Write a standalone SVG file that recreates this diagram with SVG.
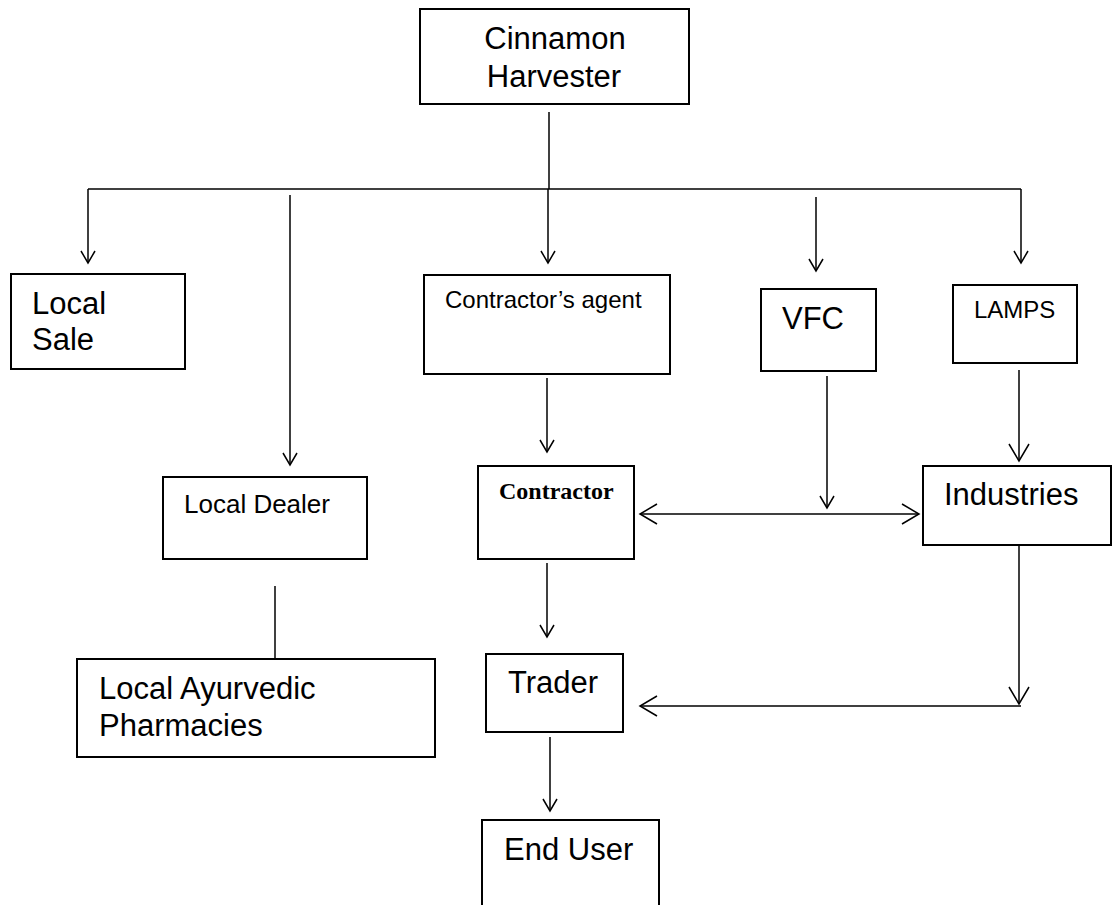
<svg xmlns="http://www.w3.org/2000/svg" width="1112" height="905" viewBox="0 0 1112 905">
<style>
.box{fill:#fff;stroke:#000;stroke-width:2}
.t{font-family:"Liberation Sans",Arial,sans-serif;fill:#000}
.big{font-size:31px}
.sm{font-size:24px}
.ser{font-family:"Liberation Serif","Times New Roman",serif;font-weight:bold;font-size:24px;fill:#000}
.ln{fill:none;stroke:#000;stroke-width:1.5}
.a{marker-end:url(#ar)}
.A{marker-end:url(#arB)}
</style>
<defs>
<marker id="ar" markerUnits="userSpaceOnUse" viewBox="-14 -9 16 18" refX="0" refY="0" markerWidth="16" markerHeight="18" orient="auto-start-reverse">
<path d="M-12,-7 L0,0 L-12,7" fill="none" stroke="#000" stroke-width="1.5"/>
</marker>
<marker id="arB" markerUnits="userSpaceOnUse" viewBox="-19 -12 21 24" refX="0" refY="0" markerWidth="21" markerHeight="24" orient="auto-start-reverse">
<path d="M-17,-10 L0,0 L-17,10" fill="none" stroke="#000" stroke-width="1.5"/>
</marker>
</defs>
<rect width="1112" height="905" fill="#fff"/>
<g id="connectors">
<path class="ln" d="M549,112 V189"/>
<path class="ln" d="M88,189 H1021"/>
<path class="ln a" d="M88,189 V263"/>
<path class="ln a" d="M1021,189 V263"/>
<path class="ln a" d="M290,195 V465"/>
<path class="ln a" d="M548,189 V263"/>
<path class="ln a" d="M816,197 V271"/>
<path class="ln a" d="M547,378 V452"/>
<path class="ln a" d="M827,376 V508"/>
<path class="ln A" d="M640,514 H919" style="marker-start:url(#arB)"/>
<path class="ln A" d="M1019,370 V461"/>
<path class="ln" d="M275,586 V659"/>
<path class="ln a" d="M547,563 V637"/>
<path class="ln A" d="M1019,537 V704"/>
<path class="ln A" d="M1021,706 H640"/>
<path class="ln a" d="M550,737 V811"/>
</g>
<g id="harvester">
<rect class="box" x="420" y="9" width="269" height="95"/>
<text class="t big" x="555" y="49" text-anchor="middle">Cinnamon</text>
<text class="t big" x="554" y="87" text-anchor="middle">Harvester</text>
</g>
<g id="local-sale">
<rect class="box" x="11" y="274" width="174" height="95"/>
<text class="t big" x="32" y="314">Local</text>
<text class="t big" x="32" y="350">Sale</text>
</g>
<g id="contractors-agent">
<rect class="box" x="424" y="275" width="246" height="99"/>
<text class="t sm" x="445" y="308">Contractor’s agent</text>
</g>
<g id="vfc">
<rect class="box" x="761" y="289" width="115" height="82"/>
<text class="t big" x="782" y="329">VFC</text>
</g>
<g id="lamps">
<rect class="box" x="953" y="285" width="124" height="78"/>
<text class="t sm" x="974" y="318">LAMPS</text>
</g>
<g id="local-dealer">
<rect class="box" x="163" y="477" width="204" height="82"/>
<text class="t" style="font-size:26px" x="184" y="513">Local Dealer</text>
</g>
<g id="contractor">
<rect class="box" x="478" y="466" width="156" height="93"/>
<text class="ser" x="499" y="499">Contractor</text>
</g>
<g id="industries">
<rect class="box" x="923" y="466" width="188" height="79"/>
<text class="t big" x="944" y="505">Industries</text>
</g>
<g id="pharmacies">
<rect class="box" x="77" y="659" width="358" height="98"/>
<text class="t big" x="99" y="699">Local Ayurvedic</text>
<text class="t big" x="99" y="736">Pharmacies</text>
</g>
<g id="trader">
<rect class="box" x="486" y="654" width="137" height="78"/>
<text class="t big" x="508" y="693">Trader</text>
</g>
<g id="end-user">
<rect class="box" x="482" y="820" width="177" height="110"/>
<text class="t big" x="504" y="860">End User</text>
</g>
</svg>
